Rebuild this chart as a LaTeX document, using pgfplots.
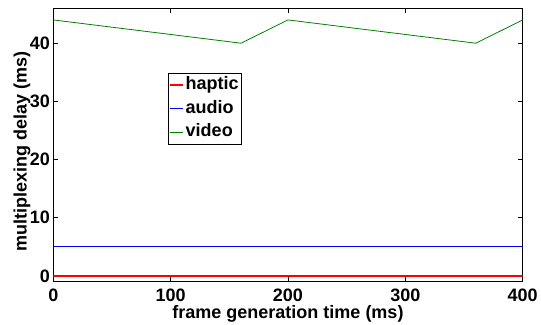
\documentclass[border=0pt]{standalone}
\usepackage{fontspec}
\setmainfont{Liberation Sans}
\usepackage{pgfplots}
\pgfplotsset{compat=1.18}
\definecolor{mgreen}{RGB}{0,128,0}
\definecolor{hred}{RGB}{255,0,0}
\definecolor{ablue}{RGB}{0,0,255}
\begin{document}
\begin{tikzpicture}
\begin{axis}[
  name=ax,
  scale only axis,
  width=469.4pt, height=273.4pt,
  xmin=0, xmax=400, ymin=-1, ymax=46,
  xtick={0,100,200,300,400},
  ytick={0,10,20,30,40},
  tick align=inside,
  major tick length=5pt,
  axis line style={line width=0.8pt},
  tick style={line width=0.8pt, black},
  /pgf/number format/assume math mode=true,
  tick label style={font=\bfseries\fontsize{18}{20}\selectfont},
  xticklabel style={inner sep=0pt, anchor=north, yshift=-6.8pt},
  yticklabel style={inner sep=0pt, anchor=east, xshift=-3.3pt},
  label style={font=\bfseries\fontsize{18}{20}\selectfont},
  xlabel={frame generation time (ms)},
  ylabel={multiplexing delay (ms)},
  xlabel style={at={(axis description cs:0.5,0)}, anchor=base, yshift=-36.6pt, inner sep=0pt},
  ylabel style={at={(axis description cs:-0.0567,0.4755)}, rotate=0, anchor=base, inner sep=0pt},
  legend cell align=left,
  legend image code/.code={\draw[#1] (0pt,0pt) -- (13pt,0pt);},
  legend style={at={(axis description cs:0.244,0.764)}, anchor=north west,
    draw=black, line width=0.8pt, inner xsep=1pt, inner ysep=0.5pt, row sep=0pt,
    font=\bfseries\fontsize{18}{20}\selectfont,
    nodes={text height=13pt, text depth=4pt, inner ysep=3.2pt, inner xsep=1.5pt},
    /tikz/every even column/.append style={column sep=1pt}},
]
\addplot[draw=hred, line width=1.5pt, legend image post style={line width=2pt}] coordinates {(0,0) (400,0)};
\addlegendentry{haptic}
\addplot[draw=ablue, line width=0.8pt] coordinates {(0,5) (400,5)};
\addlegendentry{audio}
\addplot[draw=mgreen, line width=0.8pt] coordinates {(0,44) (160,40) (200,44) (360,40) (400,44)};
\addlegendentry{video}
\end{axis}
\pgfresetboundingbox
\path[use as bounding box] ([xshift=-53.3pt,yshift=-43.3pt]ax.south west) rectangle ([xshift=18.3pt,yshift=8.3pt]ax.north east);
\end{tikzpicture}
\end{document}
